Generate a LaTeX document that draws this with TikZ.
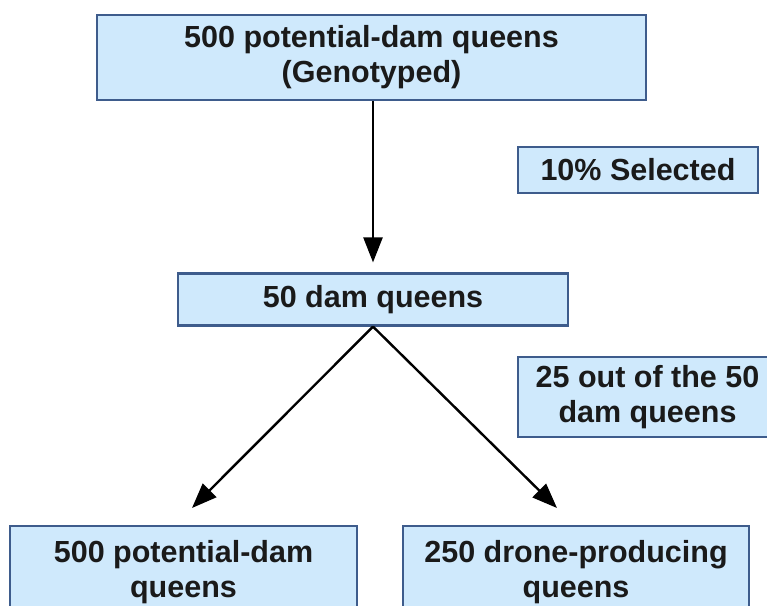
\documentclass[tikz,border=0pt]{standalone}
\usepackage{fontspec}
\setmainfont{Liberation Sans}
\usetikzlibrary{arrows.meta}
\definecolor{boxfill}{RGB}{207,233,252}
\definecolor{boxline}{RGB}{62,92,140}
\definecolor{ink}{RGB}{26,26,26}
\tikzset{
  box/.style={draw=boxline, fill=boxfill, line width=2.2pt, inner sep=0pt,
    align=center, text=ink,
    font=\bfseries\fontsize{30.5}{35}\selectfont},
  flow/.style={draw=black, line width=2.4pt,
    -{Triangle[length=25pt,width=19pt]}}
}
\begin{document}
\begin{tikzpicture}[x=1pt,y=-1pt]
  \useasboundingbox (0,0) rectangle (767,605);
  \clip (0,0) rectangle (767,605);

  % boxes
  \node[box, minimum width=549pt, minimum height=85pt] (top) at (371.5,57.5)
    {500 potential-dam queens\\(Genotyped)};
  \node[box, minimum width=240pt, minimum height=46pt] (sel) at (638,170)
    {10\% Selected};
  \node[box, minimum width=390pt, minimum height=52pt] (fifty) at (373,299.5)
    {50 dam queens};
  \node[box, minimum width=259pt, minimum height=80pt] (part) at (647.5,397)
    {25 out of the 50\\dam queens};
  \node[box, minimum width=347pt, minimum height=92pt] (left) at (183.5,572)
    {500 potential-dam\\queens};
  \node[box, minimum width=346pt, minimum height=92pt] (right) at (576,572)
    {250 drone-producing\\queens};

  % arrow tips above the bottom boxes
  \coordinate (tipL) at (192,508);
  \coordinate (tipR) at (557,508);

  % connectors
  \draw[flow, shorten >=10pt] (top.south -| fifty.north) -- (fifty.north);
  \draw[flow] (fifty.south) -- (tipL);
  \draw[flow] (fifty.south) -- (tipR);
\end{tikzpicture}
\end{document}
